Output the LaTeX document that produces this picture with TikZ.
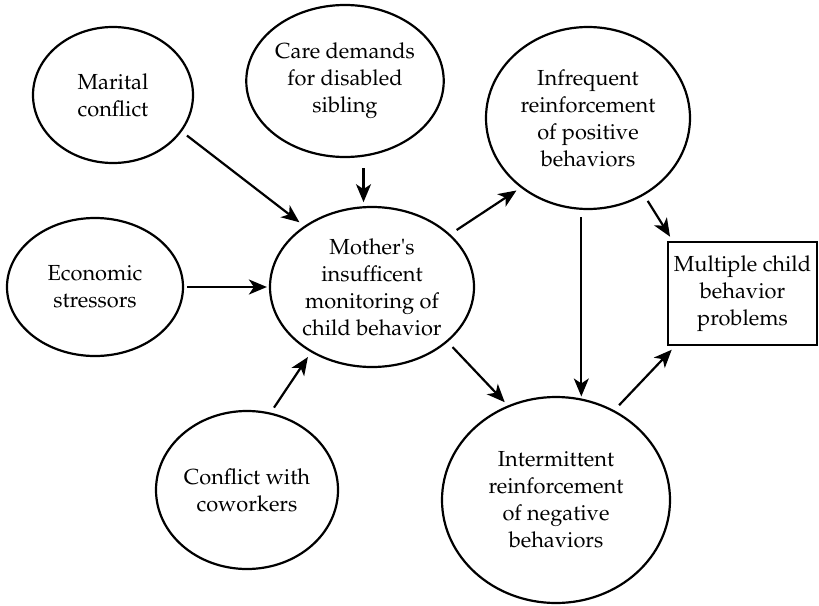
\documentclass[tikz,border=0pt]{standalone}
\usepackage[T1]{fontenc}
\usepackage{mathpazo}
\usetikzlibrary{shapes.geometric,arrows.meta}

\tikzset{
  every node/.style={font=\fontsize{21.8}{27}\selectfont, text=black, align=center},
  oval/.style={draw, ellipse, line width=2.2pt, inner sep=0pt},
  outcome/.style={draw, rectangle, line width=2.2pt, inner sep=0pt},
  arr/.style={line width=2.2pt, -{Stealth[length=18pt,width=15pt,inset=5pt]}},
}

\begin{document}
\begin{tikzpicture}[x=1pt, y=-1pt]
  \useasboundingbox (0,0) rectangle (819,605);

  % stressors
  \node[oval, minimum width=160pt, minimum height=136pt] (mar) at (113,95) {Marital\\conflict};
  \node[oval, minimum width=194pt, minimum height=152pt] (care) at (345,81) {Care demands\\for disabled\\sibling};
  \node[oval, minimum width=176pt, minimum height=138pt] (eco) at (95,287) {Economic\\stressors};
  \node[oval, minimum width=182pt, minimum height=158pt] (cow) at (247,490) {Conflict with\\coworkers};

  % central process
  \node[oval, minimum width=204pt, minimum height=160pt] (mot) at (372,287)
    {Mother\textquotesingle s\\insufficent\\monitoring of\\child behavior};

  % reinforcement patterns
  \node[oval, minimum width=204pt, minimum height=182pt] (inf) at (588,118)
    {Infrequent\\reinforcement\\of positive\\behaviors};
  \node[oval, minimum width=228pt, minimum height=206pt] (inte) at (556,500)
    {Intermittent\\reinforcement\\of negative\\behaviors};

  % outcome
  \node[outcome, minimum width=149pt, minimum height=103pt] (box) at (742.5,293.5)
    {Multiple child\\behavior\\problems};

  % connectors
  \draw[arr, shorten <=6.5pt, shorten >=6pt] (mar.-28.7) -- (mot.138.4);
  \draw[arr, shorten <=10pt, shorten >=4pt] (care.south -| mot.96.1) -- (mot.96.1);
  \draw[arr, shorten <=3pt, shorten >=2pt] (eco.east) -- (mot.west);
  \draw[arr, shorten <=6pt, shorten >=5.6pt] (cow.73) -- (mot.-133.7);
  \draw[arr, shorten <=7.6pt, shorten >=5pt] (mot.34.5) -- (inf.-134.6);
  \draw[arr, shorten <=7pt, shorten >=4.5pt] (mot.-36.4) -- (inte.117.7);
  \draw[arr, shorten <=6.7pt, shorten >=5pt] (inf.-54.3) -- (box.143.9);
  \draw[arr, shorten <=7pt, shorten >=2pt] (inf.south -| inte.76.6) -- (inte.76.6);
  \draw[arr, shorten <=7pt, shorten >=5pt] (inte.57.3) -- (box.-142.2);
\end{tikzpicture}
\end{document}
